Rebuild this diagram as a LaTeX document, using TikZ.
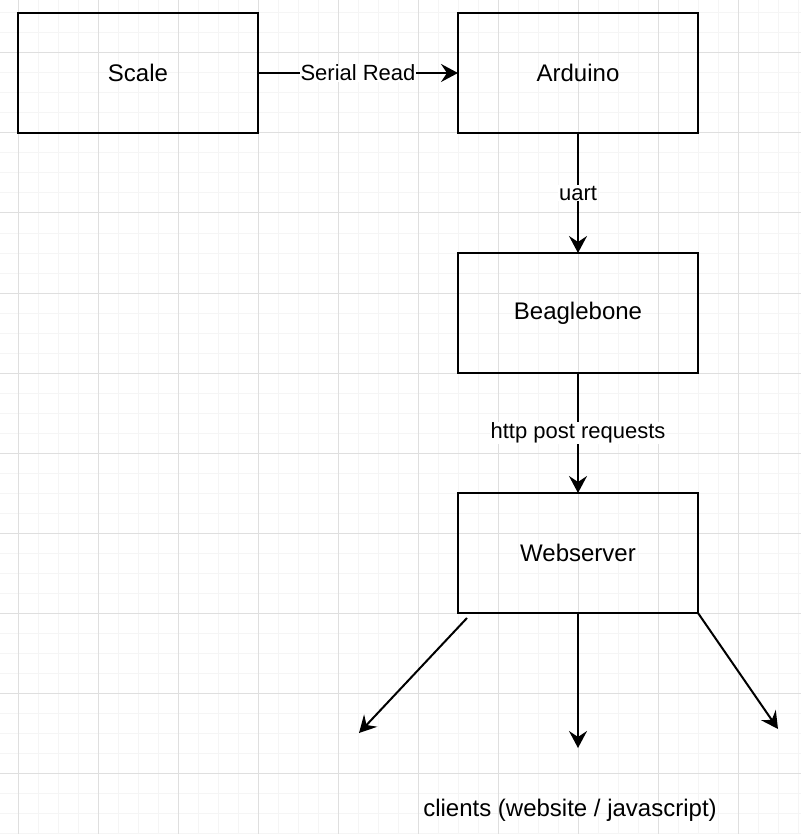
\documentclass[tikz,border=0pt]{standalone}
\usepackage{fontspec}
\setmainfont{Liberation Sans}
\usetikzlibrary{arrows.meta,positioning}

\begin{document}
\begin{tikzpicture}[x=1pt,y=-1pt,
          block/.style={minimum width=240pt,minimum height=120pt,outer sep=0pt,draw,line width=2pt,rectangle,
                        font=\fontsize{24}{28}\selectfont},
          lbl/.style={fill=white,inner sep=1pt,font=\fontsize{22}{26}\selectfont},
          conn/.style={line width=2pt,-{Stealth[length=17pt,width=18pt,inset=6pt]}}]

                % grid
                \useasboundingbox (0,0) rectangle (801,834);
                \foreach \x in {-2,18,...,798} \draw[gray!8,line width=1pt] (\x,0) -- (\x,834);
                \foreach \y in {13,33,...,833} \draw[gray!8,line width=1pt] (0,\y) -- (801,\y);
                \foreach \x in {18,98,...,738} \draw[gray!25,line width=1pt] (\x,0) -- (\x,834);
                \foreach \y in {53,133,...,773} \draw[gray!25,line width=1pt] (0,\y) -- (801,\y);

                \node[block] (A) at (138,73) {Scale};
                \node[block] (B) [right = 200pt of A] {Arduino};
                \node[block] (C) [below = 120pt of B] {Beaglebone};
                \node[block] (D) [below = 120pt of C] {Webserver};
                \node[font=\fontsize{24}{28}\selectfont] (E) at (570,810) {clients (website / javascript)};

                \coordinate (L0) at (467,618);
                \coordinate (L1) at (359,733);
                \coordinate (M1) at (578,748);
                \coordinate (R1) at (778,729);

                \draw[conn] (A) -- node[lbl] {Serial Read} (B);
                \draw[conn] (B) -- node[lbl] {uart} (C);
                \draw[conn] (C) -- node[lbl] {http post requests} (D);
                \draw[conn] (L0) -- (L1);
                \draw[conn] (D.south) -- (M1);
                \draw[conn] (D.south east) -- (R1);
              \end{tikzpicture}
\end{document}
